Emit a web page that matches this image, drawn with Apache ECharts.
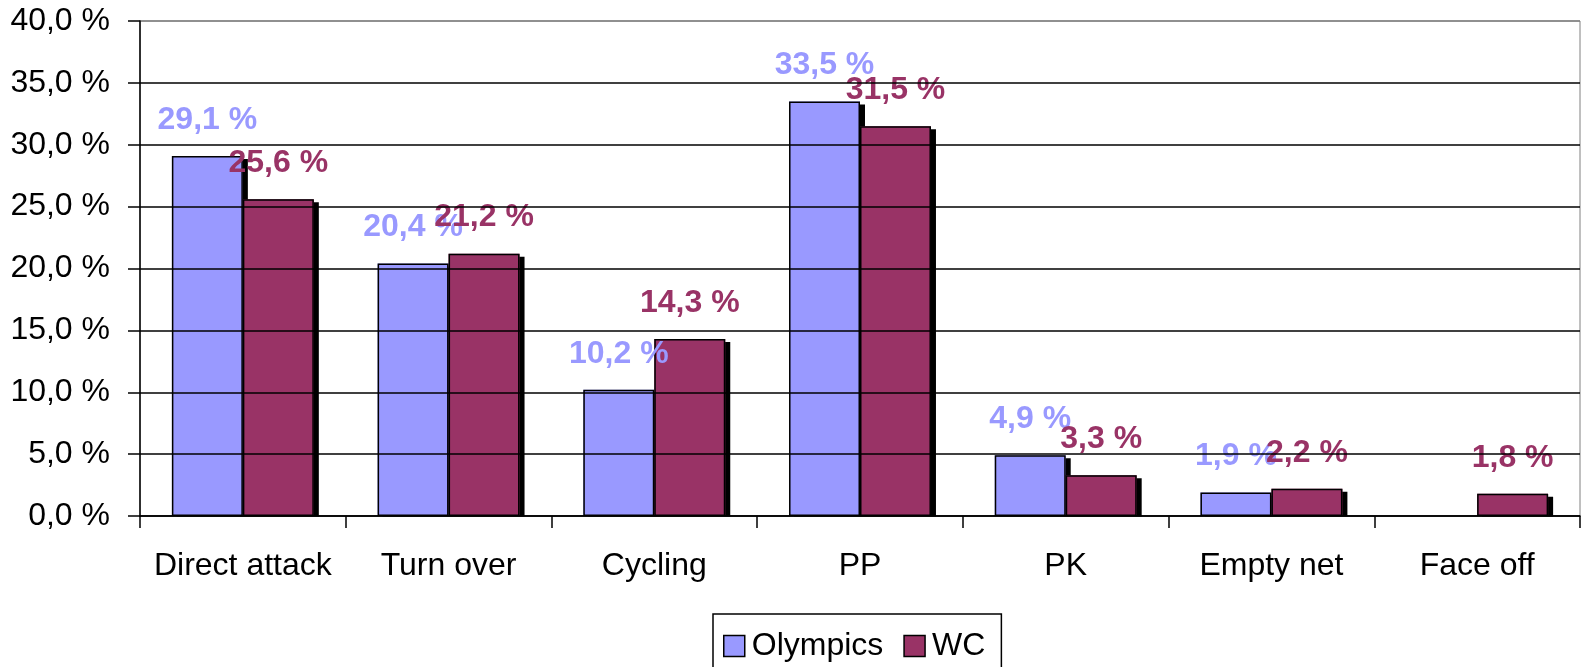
<!DOCTYPE html>
<html>
<head>
<meta charset="utf-8">
<script src="https://cdn.jsdelivr.net/npm/echarts@6/dist/echarts.min.js"></script>
<style>
html,body{margin:0;padding:0;background:#fff;}
#chart{width:1585px;height:667px;}
</style>
</head>
<body>
<div id="chart"></div>
<script>
const categories = ['Direct attack', 'Turn over', 'Cycling', 'PP', 'PK', 'Empty net', 'Face off'];
const olympics = [29.1, 20.4, 10.2, 33.5, 4.9, 1.9, null];
const wc = [25.6, 21.2, 14.3, 31.5, 3.3, 2.2, 1.8];
const yTicks = [0, 5, 10, 15, 20, 25, 30, 35, 40];

const FONT = '"Liberation Sans", Arial, sans-serif';
const FS = 32;
const fmt = v => v.toFixed(1).replace('.', ',') + ' %';
const C_OLY = '#9999FF', C_WC = '#993366';

const chart = echarts.init(document.getElementById('chart'));
const shadowStyle = (color) => ({
  color: color,
  borderWidth: 0,
  shadowColor: '#000',
  shadowBlur: 0,
  shadowOffsetX: 5,
  shadowOffsetY: 3
});
const faceStyle = (color) => ({
  color: color,
  borderColor: '#000',
  borderWidth: 1.5
});
const labelStyle = (color) => ({
  show: true,
  position: 'top',
  distance: 20,
  color: color,
  fontFamily: FONT,
  fontWeight: 'bold',
  fontSize: FS,
  formatter: p => (p.value == null ? '' : fmt(p.value))
});

const BW = '34.5%';
const GRID = { left: 140, right: 5, top: 21, bottom: 151 };
chart.setOption({
  animation: false,
  backgroundColor: '#fff',
  grid: Object.assign({
    show: true, borderColor: '#808080', borderWidth: 1, backgroundColor: 'transparent'
  }, GRID),
  legend: {
    data: ['Olympics', 'WC'],
    left: 713, top: 614,
    padding: [16, 16, 40, 10],
    borderColor: '#000', borderWidth: 1.5,
    itemWidth: 21, itemHeight: 21, itemGap: 20,
    icon: 'rect',
    textStyle: { fontFamily: FONT, fontSize: FS, color: '#000', padding: [0, 0, 0, 2] },
    itemStyle: { borderColor: '#000', borderWidth: 1.5 }
  },
  xAxis: [{
    type: 'category',
    data: categories,
    boundaryGap: true,
    z: 10,
    axisLine: { lineStyle: { color: '#000', width: 1.5 } },
    axisTick: { show: true, length: 12, lineStyle: { color: '#000', width: 1.5 } },
    axisLabel: { color: '#000', fontFamily: FONT, fontSize: FS, margin: 34, interval: 0 }
  }, {
    type: 'category',
    data: categories,
    boundaryGap: true,
    position: 'bottom',
    show: false
  }],
  yAxis: {
    type: 'value',
    min: 0, max: 40, interval: 5,
    z: 10,
    axisLine: { show: true, lineStyle: { color: '#000', width: 1.5 } },
    axisTick: { show: true, length: 12, lineStyle: { color: '#000', width: 1.5 } },
    axisLabel: { color: '#000', fontFamily: FONT, fontSize: FS, margin: 30,
      formatter: v => yTicks.includes(v) ? fmt(v) : '' },
    splitLine: { show: true, lineStyle: { color: ['#000','#000','#000','#000','#000','#000','#000','#000','#808080'], width: 1.5 } }
  },
  graphic: [{
    type: 'rect', z: 5,
    shape: { x: 141, y: 667 - GRID.bottom + 0.5, width: 1585 - GRID.left - GRID.right - 1, height: 6 },
    style: { fill: '#fff' }, silent: true
  }],
  series: [
    { name: 'Olympics-shadow', type: 'bar', xAxisIndex: 0, data: olympics, barWidth: BW, barGap: '0%',
      itemStyle: shadowStyle(C_OLY), silent: true, legendHoverLink: false },
    { name: 'WC-shadow', type: 'bar', xAxisIndex: 0, data: wc, barWidth: BW, barGap: '0%',
      itemStyle: shadowStyle(C_WC), silent: true, legendHoverLink: false },
    { name: 'Olympics', type: 'bar', xAxisIndex: 1, data: olympics, barWidth: BW, barGap: '0%',
      itemStyle: faceStyle(C_OLY), label: labelStyle(C_OLY) },
    { name: 'WC', type: 'bar', xAxisIndex: 1, data: wc, barWidth: BW, barGap: '0%',
      itemStyle: faceStyle(C_WC), label: labelStyle(C_WC) }
  ]
});
</script>
</body>
</html>
